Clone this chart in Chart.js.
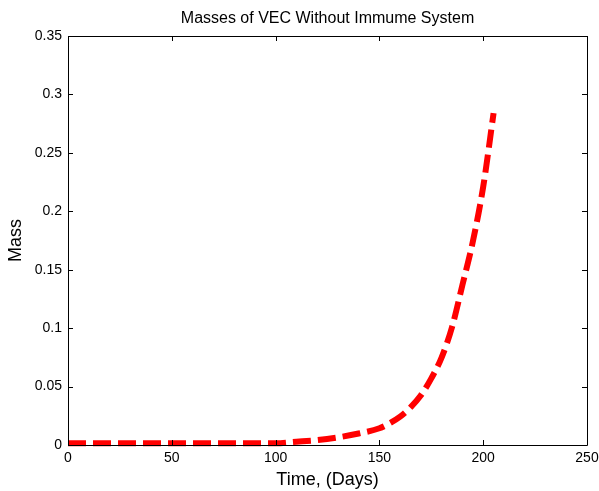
<!DOCTYPE html>
<html>
<head>
<meta charset="utf-8">
<script src="https://cdn.jsdelivr.net/npm/chart.js@4.4.1/dist/chart.umd.min.js"></script>
<style>
  html, body { margin: 0; padding: 0; background: #fff; }
  #wrap { width: 599px; height: 491px; }
</style>
</head>
<body>
<div id="wrap"><canvas id="chart"></canvas></div>
<script>
// values
const days = [0, 20, 40, 60, 80, 100, 110, 120, 130, 140, 150, 155, 160, 165, 170, 175, 180, 185, 190, 195, 200, 205];
const mass = [0.0015, 0.0015, 0.0015, 0.0015, 0.0015, 0.0015, 0.0028, 0.0042, 0.0065, 0.0098, 0.0143, 0.0187, 0.0243, 0.0322, 0.0425, 0.057, 0.075, 0.101, 0.137, 0.174, 0.221, 0.284];
const xTicks = [0, 50, 100, 150, 200, 250];
const yTicks = [0, 0.05, 0.1, 0.15, 0.2, 0.25, 0.3, 0.35];

const FONT = "'Liberation Sans', Arial, Helvetica, sans-serif";

// matlab style box with inward ticks
const boxPlugin = {
  id: "box",
  afterDraw(chart) {
    const { ctx, chartArea: a, scales } = chart;
    ctx.save();
    ctx.strokeStyle = "#000";
    ctx.lineWidth = 1;
    ctx.beginPath();
    ctx.rect(a.left + 0.5, a.top + 0.5, a.right - a.left, a.bottom - a.top);
    const len = 5;
    xTicks.forEach((v) => {
      const x = Math.round(scales.x.getPixelForValue(v)) + 0.5;
      ctx.moveTo(x, a.bottom);
      ctx.lineTo(x, a.bottom - len);
      ctx.moveTo(x, a.top);
      ctx.lineTo(x, a.top + len);
    });
    yTicks.forEach((v) => {
      const y = Math.round(scales.y.getPixelForValue(v)) + 0.5;
      ctx.moveTo(a.left, y);
      ctx.lineTo(a.left + len, y);
      ctx.moveTo(a.right, y);
      ctx.lineTo(a.right - len, y);
    });
    ctx.stroke();
    ctx.restore();
  },
};

new Chart(document.getElementById("chart"), {
  type: "line",
  data: {
    datasets: [
      {
        data: days.map((d, i) => ({ x: d, y: mass[i] })),
        borderColor: "#ff0000",
        borderWidth: 6,
        borderDash: [18, 7],
        borderCapStyle: "butt",
        pointRadius: 0,
        cubicInterpolationMode: "monotone",
        fill: false,
        clip: false,
      },
    ],
  },
  options: {
    responsive: true,
    maintainAspectRatio: false,
    animation: false,
    layout: { padding: { left: 0, right: 12, top: 0, bottom: 0 } },
    plugins: {
      legend: { display: false },
      tooltip: { enabled: false },
    },
    scales: {
      // top axis only carries the title, so it sits centred over the plot box
      top: {
        type: "linear",
        position: "top",
        display: true,
        min: 0,
        max: 250,
        afterFit: (s) => { s.height = 36; s.paddingLeft = 0; s.paddingRight = 0; },
        grid: { display: false, drawTicks: false },
        border: { display: false },
        ticks: { display: false },
        title: {
          display: true,
          text: "Masses of VEC Without Immume System",
          color: "#000",
          font: { family: FONT, size: 16 },
          padding: { top: 9, bottom: 0 },
        },
      },
      x: {
        type: "linear",
        min: 0,
        max: 250,
        afterBuildTicks: (s) => { s.ticks = xTicks.map((v) => ({ value: v })); },
        afterFit: (s) => { s.height = 46; s.paddingLeft = 0; s.paddingRight = 0; },
        grid: { display: false, drawTicks: false },
        border: { display: false },
        ticks: {
          color: "#000",
          padding: 5,
          maxRotation: 0,
          font: { family: FONT, size: 14 },
        },
        title: {
          display: true,
          text: "Time, (Days)",
          color: "#000",
          font: { family: FONT, size: 18 },
          padding: 0,
        },
      },
      y: {
        min: 0,
        max: 0.35,
        afterBuildTicks: (s) => { s.ticks = yTicks.map((v) => ({ value: v })); },
        afterFit: (s) => { s.width = 68; s.paddingTop = 0; s.paddingBottom = 0; },
        grid: { display: false, drawTicks: false },
        border: { display: false },
        ticks: {
          color: "#000",
          padding: 6,
          font: { family: FONT, size: 14 },
          callback: (v) => String(Math.round(v * 100) / 100),
        },
        title: {
          display: true,
          text: "Mass",
          color: "#000",
          font: { family: FONT, size: 18 },
          padding: { top: 5, bottom: 0 },
        },
      },
    },
  },
  plugins: [boxPlugin],
});
</script>
</body>
</html>
